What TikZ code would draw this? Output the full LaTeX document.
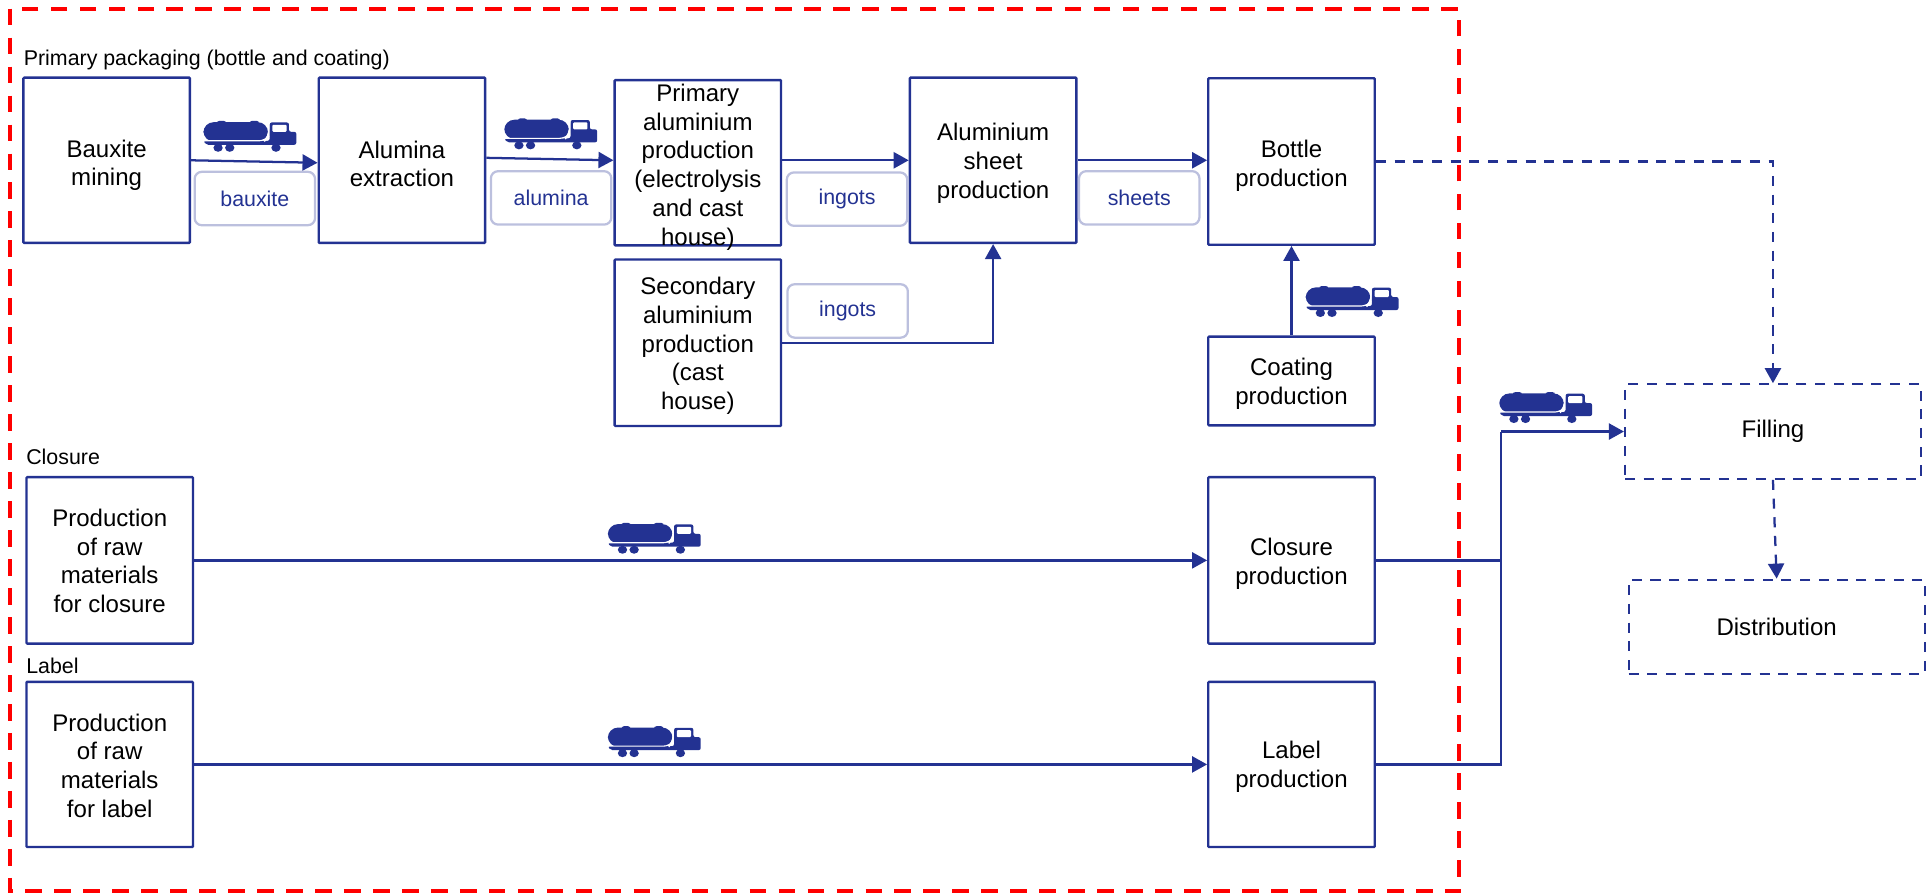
\documentclass[tikz,border=0pt]{standalone}
\usepackage{fontspec}
\setmainfont{Liberation Sans}
\usetikzlibrary{arrows.meta,calc}
\definecolor{navy}{HTML}{233292}
\definecolor{soft}{HTML}{BCC0DE}
\tikzset{
  x=0.6pt,y=-0.6pt,
  boxx/.style={draw=navy,line width=1.15pt,inner sep=0pt,rounded corners=0.4pt},
  boxtext/.style={align=center,inner sep=0pt,font=\fontsize{11.7}{14}\selectfont,text=black},
  dashbox/.style={draw=navy,line width=1.05pt,dash pattern=on 4.9pt off 4.2pt,minimum width=144pt,minimum height=46pt,align=center,inner sep=0pt,font=\fontsize{11.7}{14}\selectfont,text=black},
  tag/.style={draw=soft,line width=1.1pt,rounded corners=3.5pt,text=navy,font=\fontsize{10.4}{12}\selectfont,minimum width=58.6pt,minimum height=26pt,inner sep=0pt},
  head/.style={font=\fontsize{10.4}{12}\selectfont,text=black,anchor=base west,inner sep=0pt},
  flow/.style={draw=navy,line width=1.1pt,-{Triangle[length=7.3pt,width=7.8pt]}},
  plainflow/.style={draw=navy,line width=1.1pt},
  dashflow/.style={flow,dash pattern=on 4.9pt off 4.2pt},
  pics/truck/.style={code={
    \fill[navy,rounded corners=5pt] (0,4) rectangle (194,62);
    \fill[navy,rounded corners=1pt] (42,0) rectangle (67,8);
    \fill[navy,rounded corners=1pt] (140,0) rectangle (166,8);
    \fill[navy,rounded corners=1pt] (199,5) -- (257,5) -- (257,33) -- (279,33) -- (279,72) -- (8,72) -- (0,60) -- (199,60) -- cycle;
    \draw[white,line width=0.55pt,rounded corners=3pt] (0,60) -- (185,60) -- (195,48) -- (197,4);
    \fill[white,rounded corners=0.5pt] (207,12) rectangle (250,33);
    \fill[navy] (44,81) ellipse (14 and 12);
    \fill[navy] (79,81) ellipse (14 and 12);
    \fill[navy] (218,81) ellipse (14 and 12);
  }}
}
\newcommand{\bx}[7]{\node[boxx,minimum width=#4*0.6pt,minimum height=#5*0.6pt,label={[boxtext,yshift=-#6*0.6pt]center:{#7}}] (#1) at (#2,#3) {};}
\begin{document}
\begin{tikzpicture}
\useasboundingbox (0,0) rectangle (1567,726);
\draw[red,line width=2pt,dash pattern=on 8.1pt off 6pt] (8,7) rectangle (1183.5,723);

\node[head] (h1) at (19,53) {Primary packaging (bottle and coating)};
\node[head] (h2) at (21,377) {Closure};
\node[head] (h3) at (21,546) {Label};

\bx{baux}{86.5}{130}{135}{134}{4}{Bauxite\\mining}
\bx{alum}{326}{130}{135}{134}{3}{Alumina\\extraction}
\bx{prim}{566}{132}{135}{134}{3.5}{Primary\\aluminium\\production\\(electrolysis\\and cast\\house)}
\bx{sheet}{805.5}{130}{135}{134}{2.5}{Aluminium\\sheet\\production}
\bx{bott}{1047.5}{131}{135}{135}{3.5}{Bottle\\production}
\bx{seco}{566}{278}{135}{135}{2.5}{Secondary\\aluminium\\production\\(cast\\house)}
\bx{coat}{1047.5}{309}{135}{72}{2}{Coating\\production}
\bx{craw}{89}{454.5}{135}{135}{0.5}{Production\\of raw\\materials\\for closure}
\bx{cpro}{1047.5}{454.5}{135}{135}{3}{Closure\\production}
\bx{lraw}{89}{620}{135}{134}{1}{Production\\of raw\\materials\\for label}
\bx{lpro}{1047.5}{620}{135}{134}{2}{Label\\production}

\node[dashbox] (fill) at (1438,350) {Filling};
\node[dashbox] (dist) at (1441,508.5) {Distribution};

\node[tag] (t1) at (206.7,161) {bauxite};
\node[tag] (t2) at (447,160.5) {alumina};
\node[tag] (t3) at (687,161.5) {ingots};
\node[tag] (t4) at (924,160.5) {sheets};
\node[tag] (t5) at (687.5,252.2) {ingots};

\coordinate (j) at (1217.5,350);
\draw[flow] (baux.east) -- ($(alum.west)+(0,2)$);
\draw[flow] ($(alum.east)+(0,-2)$) -- ($(prim.west)+(0,-2)$);
\draw[flow] ($(prim.east)+(0,-2)$) -- (sheet.west);
\draw[flow] (sheet.east) -- ($(bott.west)+(0,-1)$);
\draw[flow] (seco.east) -| (sheet.south);
\draw[flow] (coat.north) -- (bott.south);
\draw[flow] (craw.east) -- (cpro.west);
\draw[flow] (lraw.east) -- (lpro.west);
\draw[plainflow] (cpro.east) -| (j);
\draw[plainflow] (lpro.east) -| (j);
\draw[flow] (j) -- (fill.west);
\draw[dashflow] (bott.east) -| (fill.north);
\draw[dashflow] (fill.south) -- (dist.north);

\path (165,98) pic[scale=0.27] {truck};
\path (409,96) pic[scale=0.27] {truck};
\path (1059,232) pic[scale=0.27] {truck};
\path (1216,318) pic[scale=0.27] {truck};
\path (493,424) pic[scale=0.27] {truck};
\path (493,589) pic[scale=0.27] {truck};
\end{tikzpicture}
\end{document}
